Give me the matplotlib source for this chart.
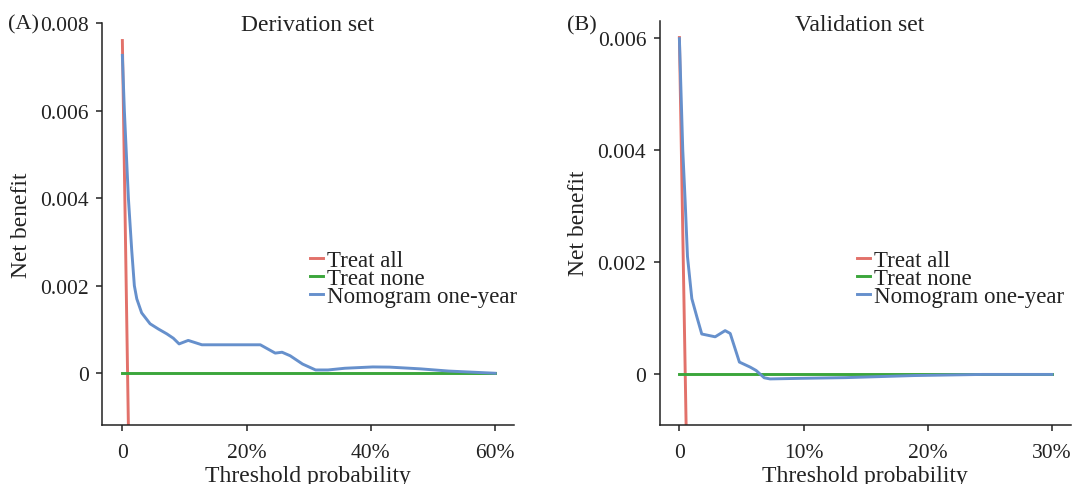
import matplotlib
matplotlib.use("Agg")
from matplotlib import pyplot as plt

plt.rcParams['font.family'] = ['Liberation Serif', 'DejaVu Serif']

red = "#E2716A"
green = "#3BA63B"
blue = "#6690CC"

# derivation set
deriv_all_x = [0, 0.0097, 0.012]
deriv_all_y = [0.0076, -0.0012, -0.0033]
deriv_none_x = [0, 0.6]
deriv_none_y = [0, 0]
deriv_nomo_x = [0, 0.0032, 0.0097, 0.0151, 0.0193, 0.0232, 0.031, 0.0446, 0.058, 0.0715, 0.082,
                0.0913, 0.106, 0.128, 0.222, 0.246, 0.257, 0.27, 0.29, 0.311, 0.331, 0.358,
                0.403, 0.43, 0.48, 0.525, 0.6]
deriv_nomo_y = [0.00726, 0.0060, 0.0040, 0.0028, 0.0020, 0.0017, 0.00138, 0.00113, 0.00101, 0.0009, 0.0008,
                0.00067, 0.00075, 0.00065, 0.00065, 0.00046, 0.00048, 0.0004, 0.00021, 0.000075, 0.000075, 0.000114,
                0.000144, 0.00014, 0.0001, 0.00005, 0]

# validation set
valid_all_x = [0, 0.0054, 0.007]
valid_all_y = [0.006, -0.0009, -0.0029]
valid_none_x = [0, 0.3]
valid_none_y = [0, 0]
valid_nomo_x = [0, 0.0027, 0.0046, 0.0065, 0.01, 0.014, 0.018, 0.0288, 0.0368, 0.0409, 0.0483,
                0.057, 0.0618, 0.0683, 0.073, 0.097, 0.134, 0.189, 0.244, 0.3]
valid_nomo_y = [0.00598, 0.0040, 0.0031, 0.0021, 0.00135, 0.00103, 0.00072, 0.00067, 0.00078, 0.00073, 0.00022,
                0.00013, 0.00007, -0.00006, -0.00008, -0.00007, -0.000057, -0.00002, 0, 0]

labels = ["Treat all", "Treat none", "Nomogram one-year"]


def DrawPanel(ax, all_x, all_y, none_x, none_y, nomo_x, nomo_y, xticks, xticklabels, yticks, yticklabels,
              xlim, ylim, legend_pos):
    ax.plot(all_x, all_y, color=red, lw=2.1, label=labels[0])
    ax.plot(none_x, none_y, color=green, lw=2.1, label=labels[1])
    ax.plot(nomo_x, nomo_y, color=blue, lw=2.1, label=labels[2])
    ax.set_xlim(xlim)
    ax.set_ylim(ylim)
    ax.set_xticks(xticks)
    ax.set_xticklabels(xticklabels)
    ax.set_yticks(yticks)
    ax.set_yticklabels(yticklabels)
    for s in ["top", "right"]:
        ax.spines[s].set_visible(False)
    for s in ["left", "bottom"]:
        ax.spines[s].set_linewidth(1.1)
        ax.spines[s].set_color("#222222")
    ax.tick_params(length=4.5, width=1.1, color="#222222", labelsize=15.5, labelcolor="#222222")
    ax.tick_params(axis="y", pad=5.5)
    ax.tick_params(axis="x", pad=9)
    ax.set_xlabel("Threshold probability", fontsize=17, color="#222222", labelpad=2)
    ax.set_ylabel("Net benefit", fontsize=17, color="#222222", labelpad=6)
    leg = ax.legend(loc="center left", bbox_to_anchor=legend_pos, frameon=False, fontsize=16.5,
                    handlelength=0.55, handletextpad=0.2, labelspacing=-0.15, borderpad=0, borderaxespad=0)
    for t in leg.get_texts():
        t.set_color("#222222")


fig = plt.figure(figsize=(10.72, 4.85), dpi=100)
axA = fig.add_axes([0.0956, 0.1223, 0.3837, 0.8282])
axB = fig.add_axes([0.6157, 0.1223, 0.383, 0.833])

DrawPanel(axA, deriv_all_x, deriv_all_y, deriv_none_x, deriv_none_y, deriv_nomo_x, deriv_nomo_y,
          [0, 0.2, 0.4, 0.6], ["0", "20%", "40%", "60%"],
          [0, 0.002, 0.004, 0.006, 0.008], ["0", "0.002", "0.004", "0.006", "0.008"],
          (-0.032, 0.63), (-0.001175, 0.008), (0.505, 0.364))
DrawPanel(axB, valid_all_x, valid_all_y, valid_none_x, valid_none_y, valid_nomo_x, valid_nomo_y,
          [0, 0.1, 0.2, 0.3], ["0", "10%", "20%", "30%"],
          [0, 0.002, 0.004, 0.006], ["0", "0.002", "0.004", "0.006"],
          (-0.0156, 0.315), (-0.000895, 0.0063), (0.48, 0.362))

fig.text(0.2873, 1 - 30.7 / 485, "Derivation set", ha="center", va="baseline", fontsize=17, color="#222222")
fig.text(0.8015, 1 - 30.7 / 485, "Validation set", ha="center", va="baseline", fontsize=17, color="#222222")
fig.text(8 / 1072, 1 - 29 / 485, "(A)", ha="left", va="baseline", fontsize=16, color="#222222")
fig.text(567 / 1072, 1 - 30 / 485, "(B)", ha="left", va="baseline", fontsize=16, color="#222222")

fig.savefig("out.png", dpi=100)
